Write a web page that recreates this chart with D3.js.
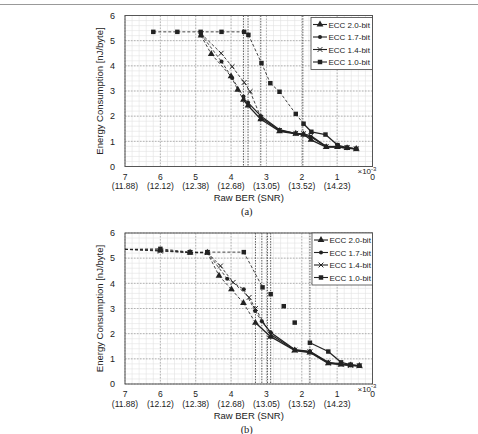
<!DOCTYPE html>
<html>
<head>
<meta charset="utf-8">
<script src="https://cdn.jsdelivr.net/npm/d3@7"></script>
<style>
body{margin:0;background:#fff;}
text{font-family:"Liberation Sans",Arial,Helvetica,sans-serif;fill:#222;}
</style>
</head>
<body>
<svg id="chart" width="478" height="434"></svg>
<script>
// ---- data (BER in units of 1e-3, energy in nJ/byte) ----
var seriesNames = ["ECC 2.0-bit", "ECC 1.7-bit", "ECC 1.4-bit", "ECC 1.0-bit"];
var berTicks    = [7, 6, 5, 4, 3, 2, 1, 0];
var snrLabels   = ["(11.88)", "(12.12)", "(12.38)", "(12.68)", "(13.05)", "(13.52)", "(14.23)", ""];
var energyTicks = [0, 1, 2, 3, 4, 5, 6];

// panel (a)
var aBer20    = [4.85, 4.56, 4.00, 3.81, 3.65, 3.52, 3.16, 2.63, 2.17, 1.95, 1.74, 1.31, 0.99, 0.72, 0.46];
var aEnergy20 = [5.20, 4.47, 3.58, 3.05, 2.65, 2.42, 1.88, 1.40, 1.30, 1.27, 1.06, 0.77, 0.77, 0.73, 0.70];
var aBer17    = [4.85, 4.27, 3.97, 3.65, 3.52, 3.16, 2.63, 2.17, 1.95, 1.74, 1.31, 0.99, 0.72, 0.46];
var aEnergy17 = [5.25, 4.17, 3.52, 2.78, 2.54, 2.01, 1.46, 1.31, 1.26, 1.17, 0.80, 0.78, 0.73, 0.70];
var aBer14    = [4.85, 4.28, 3.97, 3.63, 3.46, 3.16, 2.63, 2.17, 1.95, 1.74, 1.31, 0.99, 0.72, 0.46];
var aEnergy14 = [5.28, 4.50, 3.97, 3.34, 2.98, 1.95, 1.43, 1.32, 1.30, 1.22, 0.79, 0.80, 0.75, 0.70];
var aBer10    = [6.20, 5.52, 4.86, 4.27, 3.63, 3.51, 3.14, 2.89, 2.63, 2.17, 1.95, 1.73, 1.33, 0.99, 0.72, 0.46];
var aEnergy10 = [5.35, 5.35, 5.35, 5.35, 5.35, 5.23, 4.11, 3.31, 2.97, 2.09, 1.70, 1.38, 1.27, 0.85, 0.75, 0.70];
var aSolidFrom = [3.65, 3.52, 3.16, 1.95];
var aMarkLines = [3.65, 3.52, 3.16, 1.97];

// panel (b)
var bBer20    = [7.00, 6.00, 5.16, 4.67, 4.34, 3.99, 3.65, 3.31, 2.88, 2.20, 1.77, 1.25, 0.89, 0.62, 0.37];
var bEnergy20 = [5.35, 5.30, 5.22, 5.22, 4.30, 3.76, 3.22, 2.43, 1.88, 1.33, 1.25, 0.82, 0.77, 0.74, 0.72];
var bBer17    = [7.00, 6.00, 5.16, 4.67, 4.11, 3.64, 3.32, 3.13, 2.88, 2.20, 1.77, 1.25, 0.89, 0.62, 0.37];
var bEnergy17 = [5.35, 5.33, 5.22, 5.22, 4.18, 3.76, 2.90, 2.49, 2.05, 1.37, 1.30, 0.86, 0.80, 0.75, 0.72];
var bBer14    = [7.00, 6.00, 5.16, 4.67, 4.30, 3.94, 3.49, 3.31, 2.88, 2.20, 1.77, 1.25, 0.89, 0.62, 0.37];
var bEnergy14 = [5.35, 5.28, 5.22, 5.22, 4.69, 4.04, 3.44, 3.00, 1.97, 1.35, 1.28, 0.84, 0.78, 0.74, 0.72];
var bBer10    = [7.00, 6.00, 5.16, 4.67, 3.64, 3.11, 2.88, 2.51, 2.20, 1.77, 1.25, 0.89, 0.62, 0.37];
var bEnergy10 = [5.35, 5.37, 5.24, 5.24, 5.24, 3.84, 3.57, 3.09, 2.44, 1.64, 1.29, 0.86, 0.77, 0.73];
var bSolidFrom = [3.31, 3.13, 2.88, 1.77];
var bGapFrom   = [null, null, null, 3.11];   // 1.0-bit: isolated points between 3.11 and 1.77
var bMarkLines = [3.31, 3.13, 2.97, 2.88, 1.77];

var svg = d3.select("#chart");
var ink = "#222";

// top rule of the figure page
svg.append("line").attr("x1", 0).attr("x2", 478).attr("y1", 4.5).attr("y2", 4.5)
    .attr("stroke", "#999").attr("stroke-width", 1);

function zipSeries(bers, energies){
    return bers.map(function(b, i){ return {ber: b, energy: energies[i]}; });
}

function markerPath(kind){
    if (kind === "triangle") return d3.symbol().type(d3.symbolTriangle).size(20)();
    if (kind === "circle")   return d3.symbol().type(d3.symbolCircle).size(13)();
    if (kind === "square")   return d3.symbol().type(d3.symbolSquare).size(20)();
    // x mark
    var r = 2.4;
    return "M" + (-r) + "," + (-r) + "L" + r + "," + r + "M" + (-r) + "," + r + "L" + r + "," + (-r);
}
var markerKinds = ["triangle", "circle", "x", "square"];

function drawMarker(g, kind, x, y){
    var p = g.append("path").attr("d", markerPath(kind))
        .attr("transform", "translate(" + x + "," + y + ")");
    if (kind === "x"){
        p.attr("fill", "none").attr("stroke", ink).attr("stroke-width", 1);
    } else {
        p.attr("fill", ink).attr("stroke", "none");
    }
}

function drawPanel(cfg){
    var left = 125, right = 372.5, top = cfg.top, bottom = cfg.top + 151;
    var x = d3.scaleLinear().domain([7, 0]).range([left, right]);
    var y = d3.scaleLinear().domain([0, 6]).range([bottom, top]);
    var g = svg.append("g");

    // minor grid
    g.append("g").selectAll("line").data(d3.range(0, 7.001, 0.2)).enter().append("line")
        .attr("x1", function(d){ return x(d); }).attr("x2", function(d){ return x(d); })
        .attr("y1", top).attr("y2", bottom)
        .attr("stroke", "#e3e3e3").attr("stroke-width", 0.6);
    g.append("g").selectAll("line").data(d3.range(0, 6.001, 0.2)).enter().append("line")
        .attr("x1", left).attr("x2", right)
        .attr("y1", function(d){ return y(d); }).attr("y2", function(d){ return y(d); })
        .attr("stroke", "#e3e3e3").attr("stroke-width", 0.6);

    // major grid
    g.append("g").selectAll("line").data(berTicks).enter().append("line")
        .attr("x1", function(d){ return x(d); }).attr("x2", function(d){ return x(d); })
        .attr("y1", top).attr("y2", bottom)
        .attr("stroke", "#999").attr("stroke-width", 0.7).attr("stroke-dasharray", "1.5,1.5");
    g.append("g").selectAll("line").data(energyTicks).enter().append("line")
        .attr("x1", left).attr("x2", right)
        .attr("y1", function(d){ return y(d); }).attr("y2", function(d){ return y(d); })
        .attr("stroke", "#999").attr("stroke-width", 0.7).attr("stroke-dasharray", "1.5,1.5");

    // threshold markers
    g.append("g").selectAll("line").data(cfg.markLines).enter().append("line")
        .attr("x1", function(d){ return x(d); }).attr("x2", function(d){ return x(d); })
        .attr("y1", top).attr("y2", bottom)
        .attr("stroke", "#333").attr("stroke-width", 0.8).attr("stroke-dasharray", "1.5,1.2");

    // frame
    g.append("rect").attr("x", left).attr("y", top).attr("width", right - left).attr("height", bottom - top)
        .attr("fill", "none").attr("stroke", "#555").attr("stroke-width", 1);

    // series
    var line = d3.line().x(function(d){ return x(d.ber); }).y(function(d){ return y(d.energy); });
    cfg.series.forEach(function(s, si){
        var pts = zipSeries(s[0], s[1]);
        var solidFrom = cfg.solidFrom[si];
        var gapFrom = cfg.gapFrom ? cfg.gapFrom[si] : null;
        var sg = g.append("g");
        for (var i = 0; i < pts.length - 1; i++){
            var a = pts[i], b = pts[i + 1];
            if (gapFrom !== null && a.ber <= gapFrom + 1e-6 && a.ber > solidFrom + 1e-6) continue;
            var solid = a.ber <= solidFrom + 1e-6;
            sg.append("path").attr("d", line([a, b]))
                .attr("fill", "none").attr("stroke", ink)
                .attr("stroke-width", solid ? 1.3 : 0.85)
                .attr("stroke-dasharray", solid ? null : "3,2");
        }
        pts.forEach(function(p){
            if (p.ber >= 6.99) return;
            drawMarker(sg, markerKinds[si], x(p.ber), y(p.energy));
        });
    });

    // y axis labels
    g.append("g").selectAll("text").data(energyTicks).enter().append("text")
        .attr("x", left - 10).attr("y", function(d){ return y(d) + 3.2; })
        .attr("text-anchor", "end").attr("font-size", 9).text(function(d){ return d; });
    g.append("text")
        .attr("transform", "translate(" + 103 + "," + ((top + bottom) / 2) + ") rotate(-90)")
        .attr("text-anchor", "middle").attr("font-size", 9.5)
        .text("Energy Consumption [nJ/byte]");

    // x axis labels
    g.append("g").selectAll("text").data(berTicks).enter().append("text")
        .attr("x", function(d){ return x(d); }).attr("y", bottom + 13)
        .attr("text-anchor", "middle").attr("font-size", 8.5).text(function(d){ return d; });
    g.append("g").selectAll("text").data(berTicks.slice(0, 7)).enter().append("text")
        .attr("x", function(d){ return x(d); }).attr("y", bottom + 22.5)
        .attr("text-anchor", "middle").attr("font-size", 8.5)
        .text(function(d, i){ return snrLabels[i]; });
    var exp = g.append("text").attr("x", right - 15).attr("y", bottom + 7.5).attr("font-size", 8);
    exp.append("tspan").text("\u00d710");
    exp.append("tspan").attr("dy", -3.5).attr("font-size", 6).text("-3");
    g.append("text").attr("x", (left + right) / 2).attr("y", bottom + 34.5)
        .attr("text-anchor", "middle").attr("font-size", 9.5).text("Raw BER (SNR)");
    g.append("text").attr("x", (left + right) / 2 - 2).attr("y", bottom + 48.5)
        .attr("text-anchor", "middle").attr("font-size", 10.5)
        .style("font-family", "'Liberation Serif','Times New Roman',serif")
        .text(cfg.label);

    // legend
    var lg = g.append("g").attr("transform", "translate(" + cfg.legend[0] + "," + cfg.legend[1] + ")");
    lg.append("rect").attr("x", 0).attr("y", 0).attr("width", right - cfg.legend[0]).attr("height", 52)
        .attr("fill", "#fff").attr("stroke", "#444").attr("stroke-width", 0.8);
    seriesNames.forEach(function(name, i){
        var ly = 7 + i * 12.5;
        lg.append("line").attr("x1", 2).attr("x2", 16).attr("y1", ly).attr("y2", ly)
            .attr("stroke", ink).attr("stroke-width", 1.1);
        drawMarker(lg, markerKinds[i], 9, ly);
        lg.append("text").attr("x", 17.5).attr("y", ly + 3).attr("font-size", 8).text(name);
    });
}

drawPanel({
    top: 15.5,
    label: "(a)",
    legend: [311, 17.5],
    series: [[aBer20, aEnergy20], [aBer17, aEnergy17], [aBer14, aEnergy14], [aBer10, aEnergy10]],
    solidFrom: aSolidFrom,
    markLines: aMarkLines
});

drawPanel({
    top: 233,
    label: "(b)",
    legend: [312, 233],
    series: [[bBer20, bEnergy20], [bBer17, bEnergy17], [bBer14, bEnergy14], [bBer10, bEnergy10]],
    solidFrom: bSolidFrom,
    gapFrom: bGapFrom,
    markLines: bMarkLines
});
</script>
</body>
</html>
